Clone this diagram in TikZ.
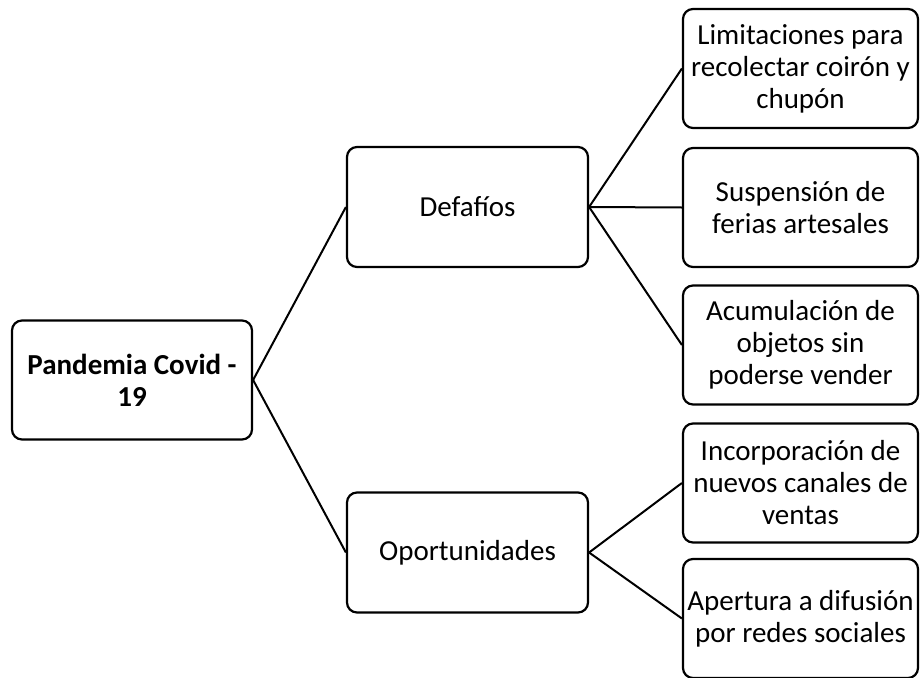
\documentclass[tikz,border=0pt]{standalone}
\usepackage{fontspec}
\setmainfont{Carlito}
\begin{document}
\begin{tikzpicture}[x=1pt,y=-1pt,
        box/.style={draw,line width=2.2pt,rounded corners=10pt,align=center,
                font=\fontsize{29}{32}\selectfont,inner sep=0pt},
        root/.style={box,minimum width=240pt,minimum height=119pt,font=\fontsize{29}{32}\selectfont\bfseries},
        mid/.style={box,minimum width=241pt,minimum height=120pt},
        leaf/.style={box,minimum width=235pt,minimum height=119pt},
        link/.style={line width=2pt}]
        \useasboundingbox (0,0) rectangle (920,677);
        \node[root] (covid) at (132,380) {Pandemia Covid -\\19};
        \node[mid] (desafios) at (467.5,207) {Defafíos};
        \node[mid] (oport) at (467.5,552.5) {Oportunidades};
        \node[leaf] (limit) at (800.5,68.5) {Limitaciones para\\recolectar coirón y\\chupón};
        \node[leaf] (ferias) at (800.5,207.5) {Suspensión de\\ferias artesales};
        \node[leaf] (acum) at (800.5,345) {Acumulación de\\objetos sin\\poderse vender};
        \node[leaf] (canales) at (800.5,483) {Incorporación de\\nuevos canales de\\ventas};
        \node[leaf] (redes) at (800.5,618.5) {Apertura a difusión\\por redes sociales};
        \draw[link] (covid.east)--(desafios.west);
        \draw[link] (covid.east)--(oport.west);
        \draw[link] (desafios.east)--(limit.west);
        \draw[link] (desafios.east)--(ferias.west);
        \draw[link] (desafios.east)--(acum.west);
        \draw[link] (oport.east)--(canales.west);
        \draw[link] (oport.east)--(redes.west);
\end{tikzpicture}
\end{document}
